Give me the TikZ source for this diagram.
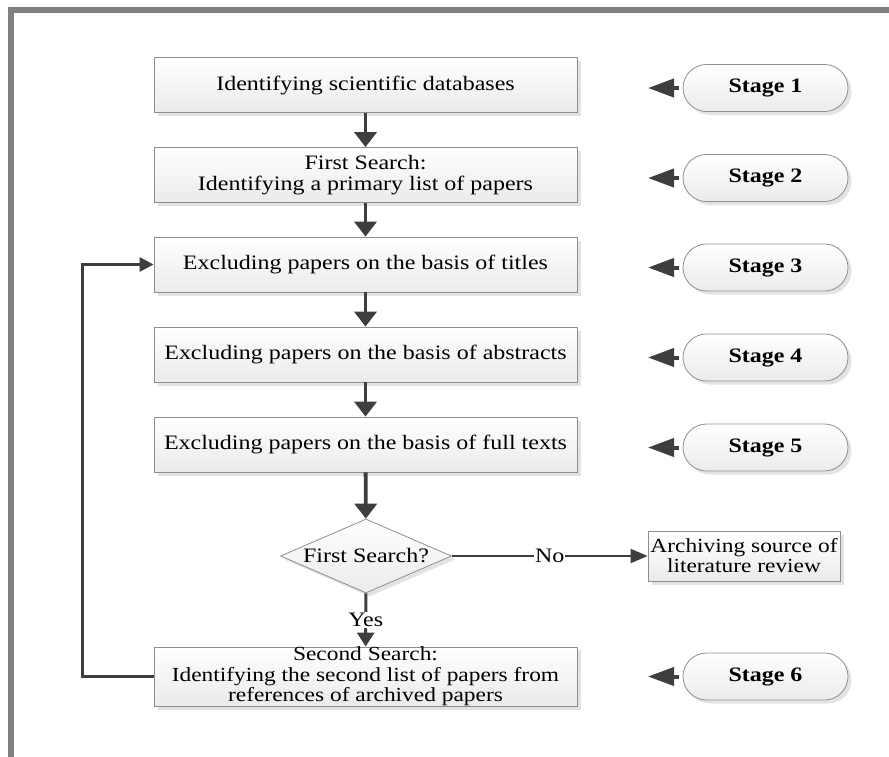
\documentclass[tikz,border=0pt]{standalone}
\usepackage{fontspec}
\setmainfont[FakeStretch=1.17]{Liberation Serif}
\usetikzlibrary{arrows.meta,shapes.geometric,shadows}
\definecolor{framegray}{HTML}{808080}
\definecolor{ink}{HTML}{3E3E3E}
\definecolor{edgegray}{HTML}{8E8E8E}
\begin{document}
\begin{tikzpicture}[x=1pt,y=-1pt,
  every node/.style={font=\fontsize{20.5}{22}\selectfont},
  card/.style={draw=edgegray, line width=0.8pt, top color=white, bottom color=black!8,
    drop shadow={shadow xshift=3.5pt, shadow yshift=-3.5pt, fill=black!22, opacity=0.5}},
  process/.style={card, rectangle, minimum width=423pt, minimum height=55pt,
    inner sep=1pt, align=center},
  stagebox/.style={card, rectangle, rounded corners=23.5pt, minimum width=165pt,
    minimum height=47pt, font=\fontsize{20.5}{22}\selectfont\bfseries},
  decision/.style={card, diamond, aspect=2.31, minimum width=171pt,
    minimum height=74pt, inner sep=0pt},
  archive/.style={card, rectangle, minimum width=192pt, minimum height=50pt,
    inner sep=1pt, align=center, font=\fontsize{20}{20}\selectfont},
  flow/.style={draw=ink, line width=3.8pt, -{Triangle[length=15pt,width=22pt]}},
  yesflow/.style={draw=ink, line width=3pt, -{Triangle[length=14pt,width=17pt]}},
  noflow/.style={draw=ink, line width=2pt, -{Triangle[length=17pt,width=14pt]}},
  loopflow/.style={draw=ink, line width=3pt, line join=miter,
    -{Triangle[length=14pt,width=14pt]}},
  stagearrow/.style={draw=ink, line width=4pt, shorten <=4pt,
    -{Triangle[length=26pt,width=18pt]}},
  lbl/.style={fill=white, inner sep=1pt}
]
\useasboundingbox (0,0) rectangle (889,756);
\clip (0,0) rectangle (889,756);

% outer frame (runs past the right and bottom edges)
\draw[framegray, line width=6pt, line join=miter] (11,800) -- (11,10) -- (950,10);

% main process column
\node[process] (b1) at (365.5,85)    {Identifying scientific databases};
\node[process] (b2) at (365.5,175)   {First Search:\\[-1pt]Identifying a primary list of papers};
\node[process] (b3) at (365.5,264.5) {Excluding papers on the basis of titles};
\node[process] (b4) at (365.5,354.5) {Excluding papers on the basis of abstracts};
\node[process] (b5) at (365.5,444.5) {Excluding papers on the basis of full texts};
\node[decision] (dec) at (366,556) {First Search?};
\node[archive] (arc) at (744,556) {Archiving source of\\literature review};
\node[process, font=\fontsize{20}{20.5}\selectfont, inner ysep=0pt] (b6) at (365.5,676.5)
  {Second Search:\\Identifying the second list of papers from\\references of archived papers};

% stage labels
\node[stagebox] (s1) at (765.5,88)    {Stage 1};
\node[stagebox] (s2) at (765.5,178)   {Stage 2};
\node[stagebox] (s3) at (765.5,267.5) {Stage 3};
\node[stagebox] (s4) at (765.5,357.5) {Stage 4};
\node[stagebox] (s5) at (765.5,447.5) {Stage 5};
\node[stagebox] (s6) at (765.5,676.5) {Stage 6};

\foreach \i/\y in {1/88,2/178,3/267.5,4/357.5,5/447.5,6/676.5}{
  \coordinate (t\i) at (648,\y);
  \draw[stagearrow] (s\i.west) -- (t\i);
}

% connectors
\draw[flow] (b1) -- (b2);
\draw[flow] (b2) -- (b3);
\draw[flow] (b3) -- (b4);
\draw[flow] (b4) -- (b5);
\draw[flow] (b5) -- (dec);
\draw[yesflow] (dec) -- node[lbl] {Yes} (b6);
\draw[noflow] (dec) -- node[lbl] {No} (arc);
\draw[loopflow] (b6.west) -- ++(-71,0) |- (b3.west);
\end{tikzpicture}
\end{document}
